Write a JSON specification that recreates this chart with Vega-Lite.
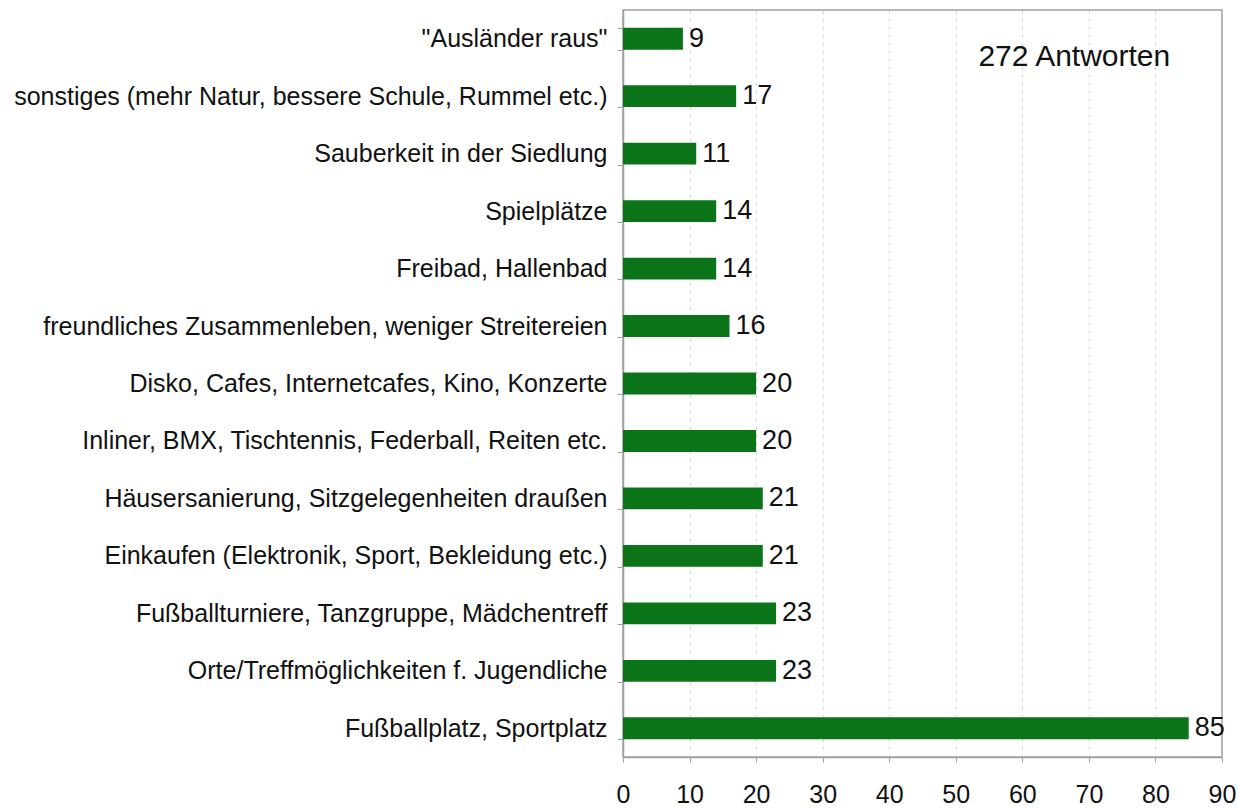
{
  "$schema": "https://vega.github.io/schema/vega-lite/v6.json",
  "width": 599,
  "height": 747,
  "autosize": {"type": "none"},
  "padding": {"left": 623, "top": 10, "right": 16, "bottom": 51},
  "background": "white",
  "config": {
    "font": "Liberation Sans",
    "view": {"stroke": "#a0a0a0", "strokeWidth": 1.5}
  },
  "data": {
    "values": [
      {"kategorie": "\"Ausländer raus\"", "anzahl": 9},
      {"kategorie": "sonstiges (mehr Natur, bessere Schule, Rummel etc.)", "anzahl": 17},
      {"kategorie": "Sauberkeit in der Siedlung", "anzahl": 11},
      {"kategorie": "Spielplätze", "anzahl": 14},
      {"kategorie": "Freibad, Hallenbad", "anzahl": 14},
      {"kategorie": "freundliches Zusammenleben, weniger Streitereien", "anzahl": 16},
      {"kategorie": "Disko, Cafes, Internetcafes,  Kino, Konzerte", "anzahl": 20},
      {"kategorie": "Inliner, BMX, Tischtennis, Federball, Reiten etc.", "anzahl": 20},
      {"kategorie": "Häusersanierung, Sitzgelegenheiten draußen", "anzahl": 21},
      {"kategorie": "Einkaufen (Elektronik, Sport, Bekleidung etc.)", "anzahl": 21},
      {"kategorie": "Fußballturniere, Tanzgruppe, Mädchentreff", "anzahl": 23},
      {"kategorie": "Orte/Treffmöglichkeiten f. Jugendliche", "anzahl": 23},
      {"kategorie": "Fußballplatz, Sportplatz", "anzahl": 85}
    ]
  },
  "layer": [
    {
      "mark": {"type": "bar", "color": "#0b7418"},
      "encoding": {
        "y": {
          "field": "kategorie",
          "type": "nominal",
          "sort": null,
          "scale": {
            "domain": [
              "\"Ausländer raus\"",
              "sonstiges (mehr Natur, bessere Schule, Rummel etc.)",
              "Sauberkeit in der Siedlung",
              "Spielplätze",
              "Freibad, Hallenbad",
              "freundliches Zusammenleben, weniger Streitereien",
              "Disko, Cafes, Internetcafes,  Kino, Konzerte",
              "Inliner, BMX, Tischtennis, Federball, Reiten etc.",
              "Häusersanierung, Sitzgelegenheiten draußen",
              "Einkaufen (Elektronik, Sport, Bekleidung etc.)",
              "Fußballturniere, Tanzgruppe, Mädchentreff",
              "Orte/Treffmöglichkeiten f. Jugendliche",
              "Fußballplatz, Sportplatz"
            ],
            "paddingInner": 0.62,
            "paddingOuter": 0.31
          },
          "axis": {
            "title": null,
            "labelFontSize": 25,
            "labelColor": "#111",
            "labelPadding": 10,
            "labelLimit": 700,
            "tickBand": "extent",
            "tickSize": 6,
            "tickColor": "#a0a0a0",
            "domainColor": "#a0a0a0",
            "domainWidth": 1.5
          }
        },
        "x": {
          "field": "anzahl",
          "type": "quantitative",
          "scale": {"domain": [0, 90], "nice": false},
          "axis": {
            "title": null,
            "values": [0, 10, 20, 30, 40, 50, 60, 70, 80, 90],
            "labelFontSize": 25,
            "labelColor": "#111",
            "labelPadding": 20,
            "labelFlush": false,
            "tickSize": 5,
            "tickColor": "#a0a0a0",
            "domainColor": "#a0a0a0",
            "domainWidth": 1.5,
            "grid": true,
            "gridColor": "#c8c8c8",
            "gridDash": [2, 6],
            "gridWidth": 1.2
          }
        }
      }
    },
    {
      "mark": {"type": "text", "align": "left", "baseline": "middle", "dx": 6, "fontSize": 27, "color": "#111"},
      "encoding": {
        "y": {"field": "kategorie", "type": "nominal", "sort": null},
        "x": {"field": "anzahl", "type": "quantitative"},
        "text": {"field": "anzahl", "type": "quantitative"}
      }
    },
    {
      "data": {"values": [{"hinweis": "272 Antworten", "pos": 53.4, "zeile": "\"Ausländer raus\""}]},
      "mark": {"type": "text", "align": "left", "baseline": "middle", "dy": 18, "fontSize": 30, "color": "#111"},
      "encoding": {
        "x": {"field": "pos", "type": "quantitative"},
        "y": {"field": "zeile", "type": "nominal"},
        "text": {"field": "hinweis", "type": "nominal"}
      }
    }
  ]
}
